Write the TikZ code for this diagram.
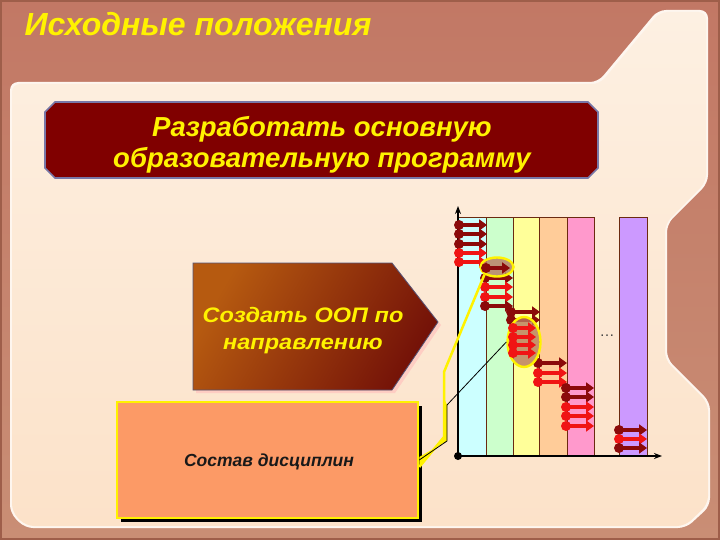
\documentclass[tikz,border=0pt]{standalone}
\usepackage{fontspec}
\setmainfont{Liberation Sans}
\newfontfamily\widesans[FakeStretch=1.12]{Liberation Sans}
\usetikzlibrary{arrows.meta,shapes.geometric}
\definecolor{frametop}{HTML}{C27865}
\definecolor{framebot}{HTML}{C98E75}
\definecolor{frameedge}{HTML}{9E5E4A}
\definecolor{paneltop}{HTML}{FDF0E2}
\definecolor{panelbot}{HTML}{FCE2C9}
\definecolor{hdrred}{HTML}{800000}
\definecolor{hdredge}{HTML}{7878A8}
\definecolor{boxorange}{HTML}{FC9A66}
\definecolor{arrowlight}{HTML}{B65A10}
\definecolor{arrowdark}{HTML}{741208}
\definecolor{colA}{HTML}{CCFFFF}
\definecolor{colB}{HTML}{CCFFCC}
\definecolor{colC}{HTML}{FFFF99}
\definecolor{colD}{HTML}{FFCC99}
\definecolor{colE}{HTML}{FF99CC}
\definecolor{colF}{HTML}{CC99FF}
\definecolor{colline}{HTML}{6B2A10}
\definecolor{pindark}{HTML}{8B0A0A}
\definecolor{pinred}{HTML}{F01414}
\definecolor{ellfill}{HTML}{B87860}
\newcommand\pinarrow[4]{%
  \draw[#4, line width=4pt, -{Triangle[length=8pt,width=11pt]}] (#1,#3) -- (#2,#3);
  \fill[#4] (#1,#3) circle (5pt);
}
\begin{document}
\begin{tikzpicture}[x=1pt,y=-1pt,
  yellowtext/.style={text=yellow, font=\bfseries\itshape},
  column/.style={draw=colline, line width=0.8pt},
  axis/.style={line width=1.8pt, -{Stealth[length=8pt,width=6pt]}},
  callout/.style={draw=yellow, line width=2.4pt, fill=ellfill, fill opacity=0.8, ellipse, inner sep=0pt}
]
\useasboundingbox (0,0) rectangle (720,540);
% frame
\shade[top color=frametop, bottom color=framebot] (0,0) rectangle (720,540);
\draw[frameedge, line width=2pt] (1,1) rectangle (719,539);
% light panel
\fill[white!70!panelbot, rounded corners=8pt]
  (10,82) -- (598,82) -- (658,10) -- (708,10) -- (708,183) -- (667,224)
  -- (667,359) -- (710,402) -- (710,506) -- (686,528) -- (25,528) -- (10,513) -- cycle;
\shade[top color=paneltop, bottom color=panelbot, rounded corners=8pt]
  (12,84) -- (600,84) -- (660,12) -- (706,12) -- (706,182) -- (665,224)
  -- (665,360) -- (708,403) -- (708,504) -- (685,526) -- (26,526) -- (12,512) -- cycle;
% title
\node[yellowtext, anchor=west, font=\fontsize{32}{34}\selectfont\bfseries\itshape] (title) at (21,24) {Исходные положения};
% header box
\filldraw[fill=hdrred, draw=hdredge, line width=1.6pt]
  (55,102) -- (588,102) -- (598,112) -- (598,168) -- (588,178) -- (55,178) -- (45,168) -- (45,112) -- cycle;
\node[align=center, yellowtext, font=\fontsize{27.5}{31}\selectfont\bfseries\itshape] (hdr) at (322,145)
  {Разработать основную\\образовательную программу};
% arrow box
\fill[pink!60!panelbot] (196,266) -- (395,266) -- (441,325) -- (395,393) -- (196,393) -- cycle;
\shade[left color=arrowlight, right color=arrowdark, shading angle=60]
  (193,263) -- (392,263) -- (438,322) -- (392,390) -- (193,390) -- cycle;
\draw[hdredge!70!black, line width=0.8pt] (193,263) -- (392,263) -- (438,322) -- (392,390) -- (193,390) -- cycle;
\node[yellowtext, align=center, font=\fontsize{21}{27}\widesans\bfseries\itshape] (ooptext) at (303,331)
  {Создать ООП по\\направлению};
% sostav box
\fill[black] (121,406) rectangle (422,522);
\node[draw=yellow, line width=2.5pt, fill=boxorange, minimum width=301pt, minimum height=116pt,
  inner sep=0pt] (sostav) at (267.5,460) {};
\node[font=\fontsize{17.5}{20}\selectfont\bfseries\itshape, text=black!90] (sostavtext) at (269,462) {Состав дисциплин};
% columns
\filldraw[column, fill=colA] (458,217) rectangle (486,456);
\filldraw[column, fill=colB] (486,217) rectangle (513,456);
\filldraw[column, fill=colC] (513,217) rectangle (539,456);
\filldraw[column, fill=colD] (539,217) rectangle (567,456);
\filldraw[column, fill=colE] (567,217) rectangle (594,456);
\filldraw[column, fill=colF] (619,217) rectangle (647,456);
\node[font=\fontsize{15}{15}\selectfont, text=black!75] (dots) at (607,336) {\ldots};
% axes
\coordinate (origin) at (458,456);
\coordinate (ytop) at (458,206);
\coordinate (xend) at (662,456);
\draw[axis] (origin) -- (ytop);
\draw[axis] (origin) -- (xend);
\fill (origin) circle (4pt);
% pins group 1
\pinarrow{459}{487}{225}{pindark}
\pinarrow{459}{487}{234}{pindark}
\pinarrow{459}{487}{244}{pindark}
\pinarrow{459}{487}{253}{pinred}
\pinarrow{459}{487}{262}{pinred}
% group 2
\pinarrow{485}{513}{278}{pindark}
\pinarrow{485}{513}{287}{pinred}
\pinarrow{485}{513}{297}{pinred}
\pinarrow{485}{513}{306}{pindark}
% group 3
\pinarrow{511}{540}{312}{pindark}
\pinarrow{511}{540}{320}{pindark}
% group 4
\pinarrow{538}{567}{363}{pindark}
\pinarrow{538}{567}{373}{pinred}
\pinarrow{538}{567}{382}{pinred}
% group 5
\pinarrow{566}{594}{388}{pindark}
\pinarrow{566}{594}{397}{pindark}
\pinarrow{566}{594}{407}{pinred}
\pinarrow{566}{594}{416}{pinred}
\pinarrow{566}{594}{426}{pinred}
% group 6
\pinarrow{619}{647}{430}{pindark}
\pinarrow{619}{647}{439}{pinred}
\pinarrow{619}{647}{448}{pindark}
% callout ellipses
\node[callout, minimum width=33pt, minimum height=19pt] (e1) at (497,267) {};
\node[callout, minimum width=33pt, minimum height=50pt] (e2) at (524,342) {};
\pinarrow{486}{510}{268}{pindark}
\pinarrow{513}{536}{328}{pinred}
\pinarrow{513}{536}{337}{pinred}
\pinarrow{513}{536}{345}{pinred}
\pinarrow{513}{536}{353}{pinred}
% callout connectors
\coordinate (a1) at (444,437);
\coordinate (a2) at (444,372);
\coordinate (b1) at (447,441);
\coordinate (b2) at (447,405);
\fill[yellow] ([yshift=-7pt]sostav.east) -- (a1) -- (444,398) -- (b2) -- (b1) -- ([yshift=3pt]sostav.east) -- cycle;
\draw[yellow, line width=2.5pt, line join=round] ([yshift=-7pt]sostav.east) -- (a1) -- (a2) -- (e1.south west);
\draw[black, line width=0.8pt] (sostav.east) -- (b1) -- (b2) -- (e2.west);
\end{tikzpicture}
\end{document}
